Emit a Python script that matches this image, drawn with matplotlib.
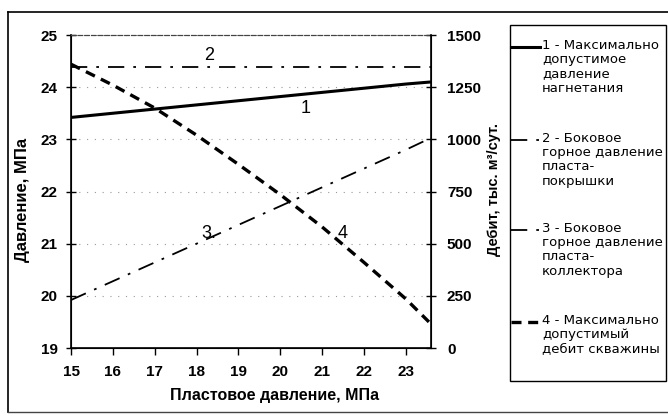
import matplotlib
matplotlib.use("Agg")
import matplotlib.pyplot as plt
from matplotlib.lines import Line2D
from matplotlib.patches import Rectangle

plt.rcParams['font.family'] = ['Liberation Sans', 'DejaVu Sans']

# data
x_vals = [15, 16, 17, 18, 19, 20, 21, 22, 23, 23.6]
p_inject = [23.42, 23.50, 23.58, 23.66, 23.74, 23.82, 23.90, 23.98, 24.06, 24.10]
p_cap = [24.38, 24.38, 24.38, 24.38, 24.38, 24.38, 24.38, 24.38, 24.38, 24.38]
x3 = [15, 16, 17, 18, 19, 20, 21, 22, 23, 23.5]
p_coll = [19.92, 20.28, 20.64, 21.00, 21.36, 21.72, 22.08, 22.44, 22.80, 22.99]
x4 = [15, 16, 17, 18, 19, 20, 21, 22, 23, 23.55]
q_max = [1360, 1260, 1150, 1020, 880, 735, 580, 410, 235, 125]

xticks = [15, 16, 17, 18, 19, 20, 21, 22, 23]
yticks_left = [19, 20, 21, 22, 23, 24, 25]
yticks_right = [0, 250, 500, 750, 1000, 1250, 1500]

leg_labels = ["1 - Максимально\nдопустимое\nдавление\nнагнетания",
              "2 - Боковое\nгорное давление\nпласта-\nпокрышки",
              "3 - Боковое\nгорное давление\nпласта-\nколлектора",
              "4 - Максимально\nдопустимый\nдебит скважины"]

fig = plt.figure(figsize=(6.68, 4.19), dpi=100)
W, H = 668, 419
ax = fig.add_axes([71 / W, 1 - 348 / H, (431 - 71) / W, (348 - 35) / H])
ax2 = ax.twinx()

dashdot = (0, (9, 5, 1.5, 5))
ax.plot(x_vals, p_inject, color='black', lw=2.2, solid_capstyle='butt')
ax.plot(x_vals, p_cap, color='black', lw=1.3, linestyle=dashdot)
ax.plot(x3, p_coll, color='black', lw=1.3, linestyle=dashdot)
ax2.plot(x4, q_max, color='black', lw=2.4, linestyle=(0, (3, 2)))

ax.set_xlim(15, 23.6)
ax.set_ylim(19, 25)
ax2.set_ylim(0, 1500)
ax.set_xticks(xticks)
ax.set_yticks(yticks_left)
ax2.set_yticks(yticks_right)

for a in (ax, ax2):
    a.tick_params(labelsize=11, width=1, length=4)
    for lab in a.get_xticklabels() + a.get_yticklabels():
        lab.set_fontweight('bold')
ax.tick_params(axis='y', direction='inout', length=7, pad=6)
ax2.tick_params(axis='y', direction='inout', length=7, pad=8)
ax.tick_params(axis='x', direction='out', length=5, pad=7)

ax.grid(axis='y', color='#999999', linestyle=(0, (1, 6)), lw=0.8)

for sp in ('left', 'bottom'):
    ax.spines[sp].set_linewidth(1.2)
ax2.spines['right'].set_linewidth(1.2)
for a in (ax, ax2):
    a.spines['top'].set_linestyle((0, (4, 2)))
    a.spines['top'].set_color('#444444')
    a.spines['top'].set_linewidth(0.8)

ax.set_xlabel("Пластовое давление, МПа", fontsize=11.5, fontweight='bold')
ax.xaxis.set_label_coords((275 - 71) / 360, -(388 - 348) / 313)
ax.set_ylabel("Давление, МПа", fontsize=12, fontweight='bold')
ax.yaxis.set_label_coords(-(71 - 30) / 360, (348 - 200) / 313)
ax2.set_ylabel("Дебит, тыс. м³/сут.", fontsize=10.5, fontweight='bold')
ax2.yaxis.set_label_coords(1 + (487 - 431) / 360, (348 - 189) / 313)

# curve numbers
ax.text(18.3, 24.45, "2", fontsize=13, ha='center', va='bottom')
ax.text(20.6, 23.6, "1", fontsize=13, ha='center', va='center')
ax.text(18.3, 21.2, "3.", fontsize=13, ha='center', va='center')
ax.text(21.5, 21.2, "4", fontsize=13, ha='center', va='center')

# outer frame
fig.add_artist(Line2D([8 / W, 1.0], [1 - 12 / H, 1 - 12 / H], color='black', lw=1.2))
fig.add_artist(Line2D([8 / W, 8 / W], [1 - 12 / H, 1 - 412 / H], color='black', lw=1.2))
fig.add_artist(Line2D([8 / W, 1.0], [1 - 412 / H, 1 - 412 / H], color='#444444', lw=1.0))

# legend box
fig.add_artist(Rectangle((510 / W, 1 - 381 / H), (666 - 510) / W, (381 - 25) / H,
                         transform=fig.transFigure, fill=False, edgecolor='black', lw=1.0))
styles = [dict(lw=2.2, linestyle='-'),
          dict(lw=1.3, linestyle=dashdot),
          dict(lw=1.3, linestyle=dashdot),
          dict(lw=2.4, linestyle=(0, (3, 2)))]
ys = [47, 140, 230, 322]
for lab, st, yy in zip(leg_labels, styles, ys):
    fig.add_artist(Line2D([511 / W, 540 / W], [1 - yy / H, 1 - yy / H], color='black', **st))
    fig.text(542 / W, 1 - (yy - 8) / H, lab, fontsize=9.5, va='top', ha='left',
             linespacing=1.12, family='DejaVu Sans')

fig.savefig("out.png", dpi=100)
